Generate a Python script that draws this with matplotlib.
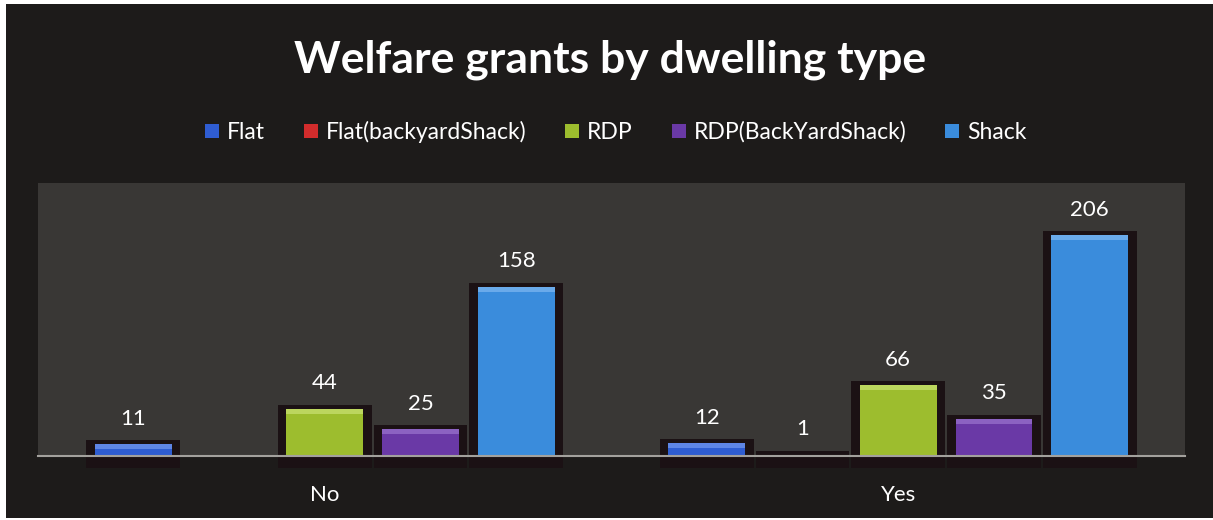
import matplotlib
matplotlib.use('Agg')
import matplotlib.pyplot as plt
from matplotlib.patches import Rectangle, Patch
import numpy as np

plt.rcParams['font.family'] = ['Lato', 'DejaVu Sans']

categories = ['No', 'Yes']
series_names = ['Flat', 'Flat(backyardShack)', 'RDP', 'RDP(BackYardShack)', 'Shack']
flat_vals = [11, 12]
flat_backyard_vals = [None, 1]
rdp_vals = [44, 66]
rdp_backyard_vals = [25, 35]
shack_vals = [158, 206]
all_series = [flat_vals, flat_backyard_vals, rdp_vals, rdp_backyard_vals, shack_vals]

colors = ['#2f5dd2', '#d22c2c', '#9dbd2e', '#6a39a6', '#3a8cdc']
highlights = ['#5f86e6', '#e66060', '#bcd65e', '#8c62c2', '#6aaaea']

W, H = 1213, 520
fig = plt.figure(figsize=(W / 100, H / 100), dpi=100, facecolor='white')
fig.patches.append(Rectangle((6 / W, 2 / H), (W - 6) / W, (H - 6) / H,
                             transform=fig.transFigure, facecolor='#1d1b1a',
                             edgecolor='none', zorder=-10))

ax = fig.add_axes([38 / W, (H - 456) / H, (1185 - 38) / W, (456 - 183) / H])
ax.set_facecolor('#393735')
ax.set_xlim(-0.5, 1.5)
ax.set_ylim(0, 255)
for s in ax.spines.values():
    s.set_visible(False)
ax.set_yticks([])

x = np.arange(len(categories))
step = 0.167
width = 0.134
upp = 255 / 273.0  # data units per pixel

for j, (name, vals) in enumerate(zip(series_names, all_series)):
    xs = x + (j - 2) * step
    v = np.array([np.nan if a is None else a for a in vals], dtype=float)
    ok = ~np.isnan(v)
    # shadow
    ax.bar(xs[ok], v[ok] + 16 * upp, bottom=-12 * upp, width=width + 17 / 573.5,
           color='#1b1114', zorder=2, clip_on=False)
    ax.bar(xs[ok], v[ok], width=width, color=colors[j], zorder=3)
    # top bevel highlight
    hh = np.minimum(v[ok], 5 * upp)
    ax.bar(xs[ok], hh, bottom=v[ok] - hh, width=width, color=highlights[j],
           zorder=4)
    for xi, vi in zip(xs[ok], v[ok]):
        ax.annotate(f'{int(vi)}', (xi, vi), xytext=(0, 14), textcoords='offset points',
                    ha='center', va='baseline', color='white', fontsize=16)

ax.axhline(0, color='#a3a19d', lw=1.5, zorder=6, clip_on=False)

ax.set_xticks(x)
ax.set_xticklabels(categories, color='white', fontsize=16)
ax.tick_params(axis='x', length=0, pad=21)

fig.text(610 / W, 1 - 73 / H, 'Welfare grants by dwelling type', ha='center',
         va='baseline', fontsize=32, weight='bold', color='white')

handles = [Patch(facecolor=c, edgecolor='none') for c in colors]
fig.legend(handles, series_names, loc='center', bbox_to_anchor=(616 / W, 1 - 132 / H),
           ncol=5, frameon=False, fontsize=16.5, labelcolor='white',
           handlelength=0.6, handleheight=0.6, handletextpad=0.35,
           columnspacing=1.7)

fig.savefig('out.png', dpi=100, facecolor=fig.get_facecolor())
